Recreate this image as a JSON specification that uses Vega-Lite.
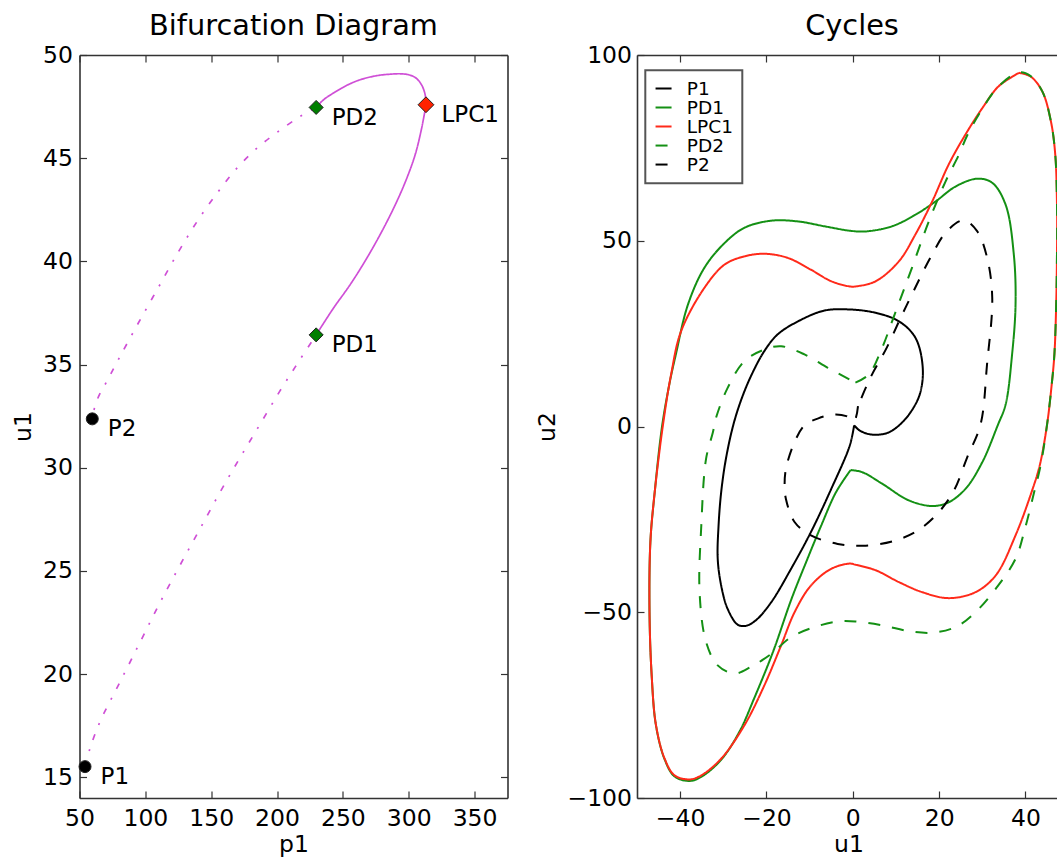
{
  "$schema": "https://vega.github.io/schema/vega-lite/v6.json",
  "background": "white",
  "padding": {"left": 11.5, "top": 12, "right": 0, "bottom": 3},
  "spacing": 26.5,
  "resolve": {
    "scale": {"strokeDash": "independent", "color": "independent", "shape": "independent", "fill": "independent", "size": "independent"},
    "legend": {"strokeDash": "independent", "color": "independent"}
  },
  "config": {
    "font": "DejaVu Sans",
    "view": {"stroke": null},
    "axis": {
      "grid": false,
      "labelFont": "DejaVu Sans", "labelFontSize": 23.5, "labelColor": "#000",
      "titleFont": "DejaVu Sans", "titleFontSize": 23.5, "titleFontWeight": "normal", "titleColor": "#000",
      "domainColor": "#333", "domainWidth": 1.6,
      "tickColor": "#333", "tickWidth": 1.2, "tickSize": -7,
      "labelFlush": false, "labelOverlap": false
    },
    "title": {"font": "DejaVu Sans", "fontSize": 28.8, "fontWeight": "normal", "color": "#000", "frame": "group"},
    "legend": {
      "labelFont": "DejaVu Sans", "labelFontSize": 18.5, "labelColor": "#000",
      "symbolType": "stroke", "symbolSize": 256, "symbolStrokeWidth": 2,
      "padding": 9, "rowPadding": 0, "labelOffset": 14,
      "strokeColor": "#555", "strokeWidth": 2, "fillColor": "white"
    }
  },
  "datasets": {
    "bif": [
      {"seg": "a", "ord": 0, "p1": 54.2, "u1": 15.52},
      {"seg": "a", "ord": 1, "p1": 58, "u1": 16.41},
      {"seg": "a", "ord": 2, "p1": 65.6, "u1": 17.7},
      {"seg": "a", "ord": 3, "p1": 81, "u1": 19.65},
      {"seg": "a", "ord": 4, "p1": 96, "u1": 21.55},
      {"seg": "a", "ord": 5, "p1": 111, "u1": 23.45},
      {"seg": "a", "ord": 6, "p1": 126.5, "u1": 25.3},
      {"seg": "a", "ord": 7, "p1": 142, "u1": 27.1},
      {"seg": "a", "ord": 8, "p1": 157, "u1": 28.85},
      {"seg": "a", "ord": 9, "p1": 172, "u1": 30.5},
      {"seg": "a", "ord": 10, "p1": 187, "u1": 32.1},
      {"seg": "a", "ord": 11, "p1": 202, "u1": 33.7},
      {"seg": "a", "ord": 12, "p1": 216, "u1": 35.1},
      {"seg": "a", "ord": 13, "p1": 229.7, "u1": 36.44},
      {"seg": "b", "ord": 14, "p1": 229.7, "u1": 36.44},
      {"seg": "b", "ord": 15, "p1": 242.9, "u1": 37.74},
      {"seg": "b", "ord": 16, "p1": 255.5, "u1": 38.87},
      {"seg": "b", "ord": 17, "p1": 268.2, "u1": 40.16},
      {"seg": "b", "ord": 18, "p1": 280.9, "u1": 41.61},
      {"seg": "b", "ord": 19, "p1": 291.0, "u1": 42.91},
      {"seg": "b", "ord": 20, "p1": 298.6, "u1": 44.04},
      {"seg": "b", "ord": 21, "p1": 304.9, "u1": 45.17},
      {"seg": "b", "ord": 22, "p1": 309.3, "u1": 46.3},
      {"seg": "b", "ord": 23, "p1": 311.8, "u1": 47.11},
      {"seg": "b", "ord": 24, "p1": 313.1, "u1": 47.59},
      {"seg": "b", "ord": 25, "p1": 312.9, "u1": 47.9},
      {"seg": "b", "ord": 26, "p1": 312.0, "u1": 48.2},
      {"seg": "b", "ord": 27, "p1": 310.2, "u1": 48.5},
      {"seg": "b", "ord": 28, "p1": 307.5, "u1": 48.76},
      {"seg": "b", "ord": 29, "p1": 304.2, "u1": 48.94},
      {"seg": "b", "ord": 30, "p1": 299.5, "u1": 49.05},
      {"seg": "b", "ord": 31, "p1": 293.5, "u1": 49.09},
      {"seg": "b", "ord": 32, "p1": 285.9, "u1": 49.07},
      {"seg": "b", "ord": 33, "p1": 275.8, "u1": 49.0},
      {"seg": "b", "ord": 34, "p1": 263.1, "u1": 48.8},
      {"seg": "b", "ord": 35, "p1": 253.0, "u1": 48.53},
      {"seg": "b", "ord": 36, "p1": 242.9, "u1": 48.16},
      {"seg": "b", "ord": 37, "p1": 235.5, "u1": 47.84},
      {"seg": "b", "ord": 38, "p1": 229.7, "u1": 47.46},
      {"seg": "c", "ord": 39, "p1": 229.7, "u1": 47.46},
      {"seg": "c", "ord": 40, "p1": 217, "u1": 47.0},
      {"seg": "c", "ord": 41, "p1": 200, "u1": 46.25},
      {"seg": "c", "ord": 42, "p1": 185, "u1": 45.5},
      {"seg": "c", "ord": 43, "p1": 170, "u1": 44.55},
      {"seg": "c", "ord": 44, "p1": 155, "u1": 43.35},
      {"seg": "c", "ord": 45, "p1": 140, "u1": 42.0},
      {"seg": "c", "ord": 46, "p1": 125, "u1": 40.45},
      {"seg": "c", "ord": 47, "p1": 110, "u1": 38.75},
      {"seg": "c", "ord": 48, "p1": 95, "u1": 37.05},
      {"seg": "c", "ord": 49, "p1": 80, "u1": 35.3},
      {"seg": "c", "ord": 50, "p1": 70, "u1": 34.1},
      {"seg": "c", "ord": 51, "p1": 65.6, "u1": 33.6},
      {"seg": "c", "ord": 52, "p1": 62, "u1": 33.05},
      {"seg": "c", "ord": 53, "p1": 59.7, "u1": 32.37}
    ],
    "pts": [
      {"name": "P1", "kind": "P", "p1": 54.2, "u1": 15.52},
      {"name": "P2", "kind": "P", "p1": 59.7, "u1": 32.37},
      {"name": "PD1", "kind": "PD", "p1": 229.7, "u1": 36.44},
      {"name": "PD2", "kind": "PD", "p1": 229.7, "u1": 47.46},
      {"name": "LPC1", "kind": "LPC", "p1": 313.1, "u1": 47.59}
    ],
    "cyc": [
      {"cycle": "P1", "ord": 0, "u1": 0.3, "u2": 0.3},
      {"cycle": "P1", "ord": 1, "u1": -0.7, "u2": -5.1},
      {"cycle": "P1", "ord": 2, "u1": -5.0, "u2": -16.8},
      {"cycle": "P1", "ord": 3, "u1": -9.7, "u2": -28.4},
      {"cycle": "P1", "ord": 4, "u1": -14.3, "u2": -38.3},
      {"cycle": "P1", "ord": 5, "u1": -18.9, "u2": -47.3},
      {"cycle": "P1", "ord": 6, "u1": -22.3, "u2": -52.0},
      {"cycle": "P1", "ord": 7, "u1": -24.6, "u2": -53.6},
      {"cycle": "P1", "ord": 8, "u1": -26.6, "u2": -53.4},
      {"cycle": "P1", "ord": 9, "u1": -29.0, "u2": -49.1},
      {"cycle": "P1", "ord": 10, "u1": -30.5, "u2": -42.8},
      {"cycle": "P1", "ord": 11, "u1": -31.3, "u2": -35.6},
      {"cycle": "P1", "ord": 12, "u1": -31.1, "u2": -26.6},
      {"cycle": "P1", "ord": 13, "u1": -30.5, "u2": -17.7},
      {"cycle": "P1", "ord": 14, "u1": -29.4, "u2": -8.7},
      {"cycle": "P1", "ord": 15, "u1": -27.6, "u2": 0.8},
      {"cycle": "P1", "ord": 16, "u1": -25.6, "u2": 8.0},
      {"cycle": "P1", "ord": 17, "u1": -23.3, "u2": 14.3},
      {"cycle": "P1", "ord": 18, "u1": -20.5, "u2": 20.3},
      {"cycle": "P1", "ord": 19, "u1": -17.4, "u2": 24.8},
      {"cycle": "P1", "ord": 20, "u1": -12.7, "u2": 28.3},
      {"cycle": "P1", "ord": 21, "u1": -6.6, "u2": 31.2},
      {"cycle": "P1", "ord": 22, "u1": -0.7, "u2": 31.5},
      {"cycle": "P1", "ord": 23, "u1": 5.3, "u2": 30.6},
      {"cycle": "P1", "ord": 24, "u1": 10.7, "u2": 28.3},
      {"cycle": "P1", "ord": 25, "u1": 14.5, "u2": 23.9},
      {"cycle": "P1", "ord": 26, "u1": 16.2, "u2": 15.8},
      {"cycle": "P1", "ord": 27, "u1": 15.5, "u2": 8.6},
      {"cycle": "P1", "ord": 28, "u1": 13.0, "u2": 3.2},
      {"cycle": "P1", "ord": 29, "u1": 10.7, "u2": 0.3},
      {"cycle": "P1", "ord": 30, "u1": 8.5, "u2": -1.5},
      {"cycle": "P1", "ord": 31, "u1": 6.0, "u2": -2.2},
      {"cycle": "P1", "ord": 32, "u1": 3.5, "u2": -2.0},
      {"cycle": "P1", "ord": 33, "u1": 1.5, "u2": -1.0},
      {"cycle": "P1", "ord": 34, "u1": 0.3, "u2": 0.3},
      {"cycle": "PD1", "ord": 0, "u1": -0.5, "u2": -11.7},
      {"cycle": "PD1", "ord": 1, "u1": -3.9, "u2": -17.7},
      {"cycle": "PD1", "ord": 2, "u1": -7.3, "u2": -26.6},
      {"cycle": "PD1", "ord": 3, "u1": -10.5, "u2": -35.6},
      {"cycle": "PD1", "ord": 4, "u1": -14.2, "u2": -46.4},
      {"cycle": "PD1", "ord": 5, "u1": -18.5, "u2": -60.7},
      {"cycle": "PD1", "ord": 6, "u1": -22.9, "u2": -73.3},
      {"cycle": "PD1", "ord": 7, "u1": -26.2, "u2": -82.0},
      {"cycle": "PD1", "ord": 8, "u1": -30.5, "u2": -89.7},
      {"cycle": "PD1", "ord": 9, "u1": -35.1, "u2": -94.3},
      {"cycle": "PD1", "ord": 10, "u1": -37.8, "u2": -95.4},
      {"cycle": "PD1", "ord": 11, "u1": -41.3, "u2": -94.2},
      {"cycle": "PD1", "ord": 12, "u1": -43.6, "u2": -89.6},
      {"cycle": "PD1", "ord": 13, "u1": -45.6, "u2": -80.5},
      {"cycle": "PD1", "ord": 14, "u1": -46.6, "u2": -67},
      {"cycle": "PD1", "ord": 15, "u1": -47.1, "u2": -50},
      {"cycle": "PD1", "ord": 16, "u1": -46.9, "u2": -31.1},
      {"cycle": "PD1", "ord": 17, "u1": -45.9, "u2": -17.7},
      {"cycle": "PD1", "ord": 18, "u1": -44.2, "u2": 0},
      {"cycle": "PD1", "ord": 19, "u1": -42.4, "u2": 12},
      {"cycle": "PD1", "ord": 20, "u1": -41.0, "u2": 19.4},
      {"cycle": "PD1", "ord": 21, "u1": -38.2, "u2": 32.8},
      {"cycle": "PD1", "ord": 22, "u1": -34.4, "u2": 42.7},
      {"cycle": "PD1", "ord": 23, "u1": -29.7, "u2": 49.4},
      {"cycle": "PD1", "ord": 24, "u1": -25.1, "u2": 53.5},
      {"cycle": "PD1", "ord": 25, "u1": -18.9, "u2": 55.4},
      {"cycle": "PD1", "ord": 26, "u1": -12.7, "u2": 55.2},
      {"cycle": "PD1", "ord": 27, "u1": -6.6, "u2": 53.9},
      {"cycle": "PD1", "ord": 28, "u1": -0.7, "u2": 52.7},
      {"cycle": "PD1", "ord": 29, "u1": 2.9, "u2": 52.5},
      {"cycle": "PD1", "ord": 30, "u1": 9.1, "u2": 53.9},
      {"cycle": "PD1", "ord": 31, "u1": 14.5, "u2": 57.0},
      {"cycle": "PD1", "ord": 32, "u1": 19.2, "u2": 60.6},
      {"cycle": "PD1", "ord": 33, "u1": 23.8, "u2": 64.6},
      {"cycle": "PD1", "ord": 34, "u1": 28.8, "u2": 66.7},
      {"cycle": "PD1", "ord": 35, "u1": 32.3, "u2": 65.6},
      {"cycle": "PD1", "ord": 36, "u1": 35.4, "u2": 59.7},
      {"cycle": "PD1", "ord": 37, "u1": 37.3, "u2": 46.3},
      {"cycle": "PD1", "ord": 38, "u1": 37.7, "u2": 32.8},
      {"cycle": "PD1", "ord": 39, "u1": 36.9, "u2": 19.4},
      {"cycle": "PD1", "ord": 40, "u1": 35.4, "u2": 5.9},
      {"cycle": "PD1", "ord": 41, "u1": 33.6, "u2": 0.4},
      {"cycle": "PD1", "ord": 42, "u1": 30.0, "u2": -9.6},
      {"cycle": "PD1", "ord": 43, "u1": 26.1, "u2": -16.8},
      {"cycle": "PD1", "ord": 44, "u1": 22.2, "u2": -20.4},
      {"cycle": "PD1", "ord": 45, "u1": 18.4, "u2": -21.4},
      {"cycle": "PD1", "ord": 46, "u1": 13.0, "u2": -19.9},
      {"cycle": "PD1", "ord": 47, "u1": 6.8, "u2": -15.4},
      {"cycle": "PD1", "ord": 48, "u1": 2.2, "u2": -12.3},
      {"cycle": "PD1", "ord": 49, "u1": -0.5, "u2": -11.7},
      {"cycle": "LPC1", "ord": 0, "u1": 38.5, "u2": 95.2},
      {"cycle": "LPC1", "ord": 1, "u1": 41.2, "u2": 94.2},
      {"cycle": "LPC1", "ord": 2, "u1": 43.9, "u2": 90.2},
      {"cycle": "LPC1", "ord": 3, "u1": 45.9, "u2": 82.1},
      {"cycle": "LPC1", "ord": 4, "u1": 46.9, "u2": 73.2},
      {"cycle": "LPC1", "ord": 5, "u1": 47.3, "u2": 60},
      {"cycle": "LPC1", "ord": 6, "u1": 47.3, "u2": 46.3},
      {"cycle": "LPC1", "ord": 7, "u1": 47.1, "u2": 32},
      {"cycle": "LPC1", "ord": 8, "u1": 46.7, "u2": 19.4},
      {"cycle": "LPC1", "ord": 9, "u1": 46.0, "u2": 10.4},
      {"cycle": "LPC1", "ord": 10, "u1": 45.0, "u2": 0.5},
      {"cycle": "LPC1", "ord": 11, "u1": 43.3, "u2": -10.5},
      {"cycle": "LPC1", "ord": 12, "u1": 41.4, "u2": -17.7},
      {"cycle": "LPC1", "ord": 13, "u1": 37.7, "u2": -29.3},
      {"cycle": "LPC1", "ord": 14, "u1": 33.1, "u2": -40.1},
      {"cycle": "LPC1", "ord": 15, "u1": 28.4, "u2": -44.6},
      {"cycle": "LPC1", "ord": 16, "u1": 22.2, "u2": -46.2},
      {"cycle": "LPC1", "ord": 17, "u1": 16.1, "u2": -44.6},
      {"cycle": "LPC1", "ord": 18, "u1": 10.7, "u2": -41.9},
      {"cycle": "LPC1", "ord": 19, "u1": 5.3, "u2": -38.7},
      {"cycle": "LPC1", "ord": 20, "u1": 0.6, "u2": -37.2},
      {"cycle": "LPC1", "ord": 21, "u1": -0.7, "u2": -36.9},
      {"cycle": "LPC1", "ord": 22, "u1": -5.0, "u2": -38.3},
      {"cycle": "LPC1", "ord": 23, "u1": -9.7, "u2": -42.8},
      {"cycle": "LPC1", "ord": 24, "u1": -13.5, "u2": -50.0},
      {"cycle": "LPC1", "ord": 25, "u1": -16.6, "u2": -58.9},
      {"cycle": "LPC1", "ord": 26, "u1": -20.5, "u2": -69.7},
      {"cycle": "LPC1", "ord": 27, "u1": -25.1, "u2": -80.4},
      {"cycle": "LPC1", "ord": 28, "u1": -30.5, "u2": -89.4},
      {"cycle": "LPC1", "ord": 29, "u1": -35.1, "u2": -93.9},
      {"cycle": "LPC1", "ord": 30, "u1": -37.8, "u2": -95.0},
      {"cycle": "LPC1", "ord": 31, "u1": -41.3, "u2": -93.9},
      {"cycle": "LPC1", "ord": 32, "u1": -43.6, "u2": -89.4},
      {"cycle": "LPC1", "ord": 33, "u1": -45.6, "u2": -80.4},
      {"cycle": "LPC1", "ord": 34, "u1": -46.6, "u2": -67},
      {"cycle": "LPC1", "ord": 35, "u1": -47.1, "u2": -50},
      {"cycle": "LPC1", "ord": 36, "u1": -46.9, "u2": -31.1},
      {"cycle": "LPC1", "ord": 37, "u1": -45.9, "u2": -17.7},
      {"cycle": "LPC1", "ord": 38, "u1": -44.0, "u2": 0.3},
      {"cycle": "LPC1", "ord": 39, "u1": -42.1, "u2": 14},
      {"cycle": "LPC1", "ord": 40, "u1": -39.8, "u2": 25.6},
      {"cycle": "LPC1", "ord": 41, "u1": -34.4, "u2": 37.3},
      {"cycle": "LPC1", "ord": 42, "u1": -29.7, "u2": 43.6},
      {"cycle": "LPC1", "ord": 43, "u1": -25.1, "u2": 45.8},
      {"cycle": "LPC1", "ord": 44, "u1": -20.5, "u2": 46.5},
      {"cycle": "LPC1", "ord": 45, "u1": -15.1, "u2": 45.4},
      {"cycle": "LPC1", "ord": 46, "u1": -9.7, "u2": 42.2},
      {"cycle": "LPC1", "ord": 47, "u1": -5.0, "u2": 39.1},
      {"cycle": "LPC1", "ord": 48, "u1": -0.7, "u2": 37.7},
      {"cycle": "LPC1", "ord": 49, "u1": 0.6, "u2": 37.7},
      {"cycle": "LPC1", "ord": 50, "u1": 5.3, "u2": 39.1},
      {"cycle": "LPC1", "ord": 51, "u1": 10.7, "u2": 44.5},
      {"cycle": "LPC1", "ord": 52, "u1": 14.5, "u2": 51.7},
      {"cycle": "LPC1", "ord": 53, "u1": 18.4, "u2": 60.6},
      {"cycle": "LPC1", "ord": 54, "u1": 22.2, "u2": 70.5},
      {"cycle": "LPC1", "ord": 55, "u1": 26.1, "u2": 78.6},
      {"cycle": "LPC1", "ord": 56, "u1": 30.0, "u2": 85.7},
      {"cycle": "LPC1", "ord": 57, "u1": 33.8, "u2": 91.6},
      {"cycle": "LPC1", "ord": 58, "u1": 38.5, "u2": 95.2},
      {"cycle": "PD2", "ord": 0, "u1": 0.6, "u2": 11.8},
      {"cycle": "PD2", "ord": 1, "u1": 3.7, "u2": 14.0},
      {"cycle": "PD2", "ord": 2, "u1": 6.8, "u2": 21.2},
      {"cycle": "PD2", "ord": 3, "u1": 9.1, "u2": 28.3},
      {"cycle": "PD2", "ord": 4, "u1": 11.4, "u2": 35.5},
      {"cycle": "PD2", "ord": 5, "u1": 13.7, "u2": 42.7},
      {"cycle": "PD2", "ord": 6, "u1": 17.6, "u2": 55.2},
      {"cycle": "PD2", "ord": 7, "u1": 21.5, "u2": 66.0},
      {"cycle": "PD2", "ord": 8, "u1": 24.6, "u2": 73.2},
      {"cycle": "PD2", "ord": 9, "u1": 26.6, "u2": 78.6},
      {"cycle": "PD2", "ord": 10, "u1": 30.1, "u2": 85.7},
      {"cycle": "PD2", "ord": 11, "u1": 33.8, "u2": 91.6},
      {"cycle": "PD2", "ord": 12, "u1": 38.5, "u2": 95.3},
      {"cycle": "PD2", "ord": 13, "u1": 41.2, "u2": 94.3},
      {"cycle": "PD2", "ord": 14, "u1": 43.9, "u2": 90.2},
      {"cycle": "PD2", "ord": 15, "u1": 45.9, "u2": 82.1},
      {"cycle": "PD2", "ord": 16, "u1": 46.9, "u2": 73.2},
      {"cycle": "PD2", "ord": 17, "u1": 47.3, "u2": 60},
      {"cycle": "PD2", "ord": 18, "u1": 47.3, "u2": 46.3},
      {"cycle": "PD2", "ord": 19, "u1": 47.1, "u2": 32},
      {"cycle": "PD2", "ord": 20, "u1": 46.7, "u2": 19.4},
      {"cycle": "PD2", "ord": 21, "u1": 46.0, "u2": 10.4},
      {"cycle": "PD2", "ord": 22, "u1": 45.0, "u2": 0.5},
      {"cycle": "PD2", "ord": 23, "u1": 43.5, "u2": -10.5},
      {"cycle": "PD2", "ord": 24, "u1": 42.0, "u2": -17.7},
      {"cycle": "PD2", "ord": 25, "u1": 40.0, "u2": -27},
      {"cycle": "PD2", "ord": 26, "u1": 37.7, "u2": -35.6},
      {"cycle": "PD2", "ord": 27, "u1": 33.1, "u2": -43.7},
      {"cycle": "PD2", "ord": 28, "u1": 28.4, "u2": -50.0},
      {"cycle": "PD2", "ord": 29, "u1": 23.8, "u2": -54.0},
      {"cycle": "PD2", "ord": 30, "u1": 18.4, "u2": -55.5},
      {"cycle": "PD2", "ord": 31, "u1": 13.0, "u2": -55.1},
      {"cycle": "PD2", "ord": 32, "u1": 6.8, "u2": -53.5},
      {"cycle": "PD2", "ord": 33, "u1": 0.6, "u2": -52.5},
      {"cycle": "PD2", "ord": 34, "u1": -3.5, "u2": -52.5},
      {"cycle": "PD2", "ord": 35, "u1": -8.9, "u2": -54.0},
      {"cycle": "PD2", "ord": 36, "u1": -14.3, "u2": -56.7},
      {"cycle": "PD2", "ord": 37, "u1": -18.9, "u2": -61.2},
      {"cycle": "PD2", "ord": 38, "u1": -23.6, "u2": -64.7},
      {"cycle": "PD2", "ord": 39, "u1": -27.4, "u2": -66.5},
      {"cycle": "PD2", "ord": 40, "u1": -31.3, "u2": -64.3},
      {"cycle": "PD2", "ord": 41, "u1": -34.0, "u2": -58.0},
      {"cycle": "PD2", "ord": 42, "u1": -35.5, "u2": -44.6},
      {"cycle": "PD2", "ord": 43, "u1": -35.1, "u2": -26.6},
      {"cycle": "PD2", "ord": 44, "u1": -34.0, "u2": -8.7},
      {"cycle": "PD2", "ord": 45, "u1": -32.4, "u2": -1.5},
      {"cycle": "PD2", "ord": 46, "u1": -31.7, "u2": 2.3},
      {"cycle": "PD2", "ord": 47, "u1": -29.0, "u2": 10.4},
      {"cycle": "PD2", "ord": 48, "u1": -25.1, "u2": 17.6},
      {"cycle": "PD2", "ord": 49, "u1": -20.5, "u2": 20.7},
      {"cycle": "PD2", "ord": 50, "u1": -16.6, "u2": 21.6},
      {"cycle": "PD2", "ord": 51, "u1": -11.2, "u2": 19.4},
      {"cycle": "PD2", "ord": 52, "u1": -5.8, "u2": 15.8},
      {"cycle": "PD2", "ord": 53, "u1": -0.7, "u2": 12.6},
      {"cycle": "PD2", "ord": 54, "u1": 0.6, "u2": 11.8},
      {"cycle": "P2", "ord": 0, "u1": 1.2, "u2": 5.5},
      {"cycle": "P2", "ord": 1, "u1": 0.3, "u2": 1.5},
      {"cycle": "P2", "ord": 2, "u1": -1.5, "u2": 2.8},
      {"cycle": "P2", "ord": 3, "u1": -4.5, "u2": 3.2},
      {"cycle": "P2", "ord": 4, "u1": -8.0, "u2": 2.2},
      {"cycle": "P2", "ord": 5, "u1": -11.2, "u2": 0.3},
      {"cycle": "P2", "ord": 6, "u1": -13.5, "u2": -4.2},
      {"cycle": "P2", "ord": 7, "u1": -15.5, "u2": -11.4},
      {"cycle": "P2", "ord": 8, "u1": -15.8, "u2": -16},
      {"cycle": "P2", "ord": 9, "u1": -15.5, "u2": -19.5},
      {"cycle": "P2", "ord": 10, "u1": -13.5, "u2": -25.7},
      {"cycle": "P2", "ord": 11, "u1": -9.7, "u2": -29.3},
      {"cycle": "P2", "ord": 12, "u1": -3.5, "u2": -31.6},
      {"cycle": "P2", "ord": 13, "u1": 2.5, "u2": -32.1},
      {"cycle": "P2", "ord": 14, "u1": 9.5, "u2": -30.8},
      {"cycle": "P2", "ord": 15, "u1": 14.9, "u2": -28.1},
      {"cycle": "P2", "ord": 16, "u1": 19.5, "u2": -23.6},
      {"cycle": "P2", "ord": 17, "u1": 23.4, "u2": -17.3},
      {"cycle": "P2", "ord": 18, "u1": 26.5, "u2": -8.3},
      {"cycle": "P2", "ord": 19, "u1": 29.6, "u2": 0.6},
      {"cycle": "P2", "ord": 20, "u1": 31.1, "u2": 16.8},
      {"cycle": "P2", "ord": 21, "u1": 32.3, "u2": 34.7},
      {"cycle": "P2", "ord": 22, "u1": 31.1, "u2": 45.5},
      {"cycle": "P2", "ord": 23, "u1": 28.8, "u2": 52.6},
      {"cycle": "P2", "ord": 24, "u1": 25.7, "u2": 55.5},
      {"cycle": "P2", "ord": 25, "u1": 21.8, "u2": 52.6},
      {"cycle": "P2", "ord": 26, "u1": 18.0, "u2": 45.5},
      {"cycle": "P2", "ord": 27, "u1": 14.1, "u2": 36.5},
      {"cycle": "P2", "ord": 28, "u1": 11.1, "u2": 29.3},
      {"cycle": "P2", "ord": 29, "u1": 7.9, "u2": 21.3},
      {"cycle": "P2", "ord": 30, "u1": 4.1, "u2": 13.2},
      {"cycle": "P2", "ord": 31, "u1": 1.2, "u2": 5.5}
    ]
  },
  "hconcat": [
    {
      "width": 428,
      "height": 743,
      "title": {"text": "Bifurcation Diagram", "offset": 2},
      "layer": [
        {
          "data": {"name": "bif"},
          "mark": {"type": "line", "strokeWidth": 1.7, "color": "#cf4fd6", "interpolate": "catmull-rom"},
          "encoding": {
            "x": {"field": "p1", "type": "quantitative", "scale": {"domain": [50, 375], "nice": false, "zero": false},
                  "axis": {"orient": "bottom", "values": [50, 100, 150, 200, 250, 300, 350], "title": "p1", "labelPadding": 15.6, "titlePadding": 2}},
            "y": {"field": "u1", "type": "quantitative", "scale": {"domain": [14, 50], "nice": false, "zero": false},
                  "axis": {"orient": "left", "values": [15, 20, 25, 30, 35, 40, 45, 50], "title": "u1", "labelPadding": 14, "titlePadding": 7}},
            "strokeDash": {"field": "seg", "type": "nominal", "scale": {"domain": ["a", "b", "c"], "range": [[6, 10, 2, 10], [1, 0], [6, 10, 2, 10]]}, "legend": null},
            "order": {"field": "ord", "type": "quantitative"}
          }
        },
        {
          "data": {"name": "pts"},
          "mark": {"type": "point", "filled": true, "stroke": "#222", "strokeWidth": 1, "opacity": 1},
          "encoding": {
            "x": {"field": "p1", "type": "quantitative", "axis": {"orient": "top", "values": [50, 100, 150, 200, 250, 300, 350], "labels": false, "title": null}},
            "y": {"field": "u1", "type": "quantitative", "axis": {"orient": "right", "values": [15, 20, 25, 30, 35, 40, 45, 50], "labels": false, "title": null}},
            "shape": {"field": "kind", "type": "nominal", "scale": {"domain": ["P", "PD", "LPC"], "range": ["circle", "diamond", "diamond"]}, "legend": null},
            "fill": {"field": "kind", "type": "nominal", "scale": {"domain": ["P", "PD", "LPC"], "range": ["#000000", "#007f00", "#ff2200"]}, "legend": null},
            "size": {"field": "kind", "type": "nominal", "scale": {"domain": ["P", "PD", "LPC"], "range": [144, 250, 250]}, "legend": null}
          }
        },
        {
          "data": {"name": "pts"},
          "mark": {"type": "text", "align": "left", "baseline": "alphabetic", "dx": 15.5, "dy": 17.5, "fontSize": 23, "font": "DejaVu Sans", "color": "#000"},
          "encoding": {
            "x": {"field": "p1", "type": "quantitative", "axis": null},
            "y": {"field": "u1", "type": "quantitative", "axis": null},
            "text": {"field": "name"}
          }
        }
      ],
      "resolve": {"axis": {"x": "independent", "y": "independent"}}
    },
    {
      "width": 423,
      "height": 743,
      "title": {"text": "Cycles", "offset": 2, "dx": 3.5},
      "layer": [
        {
          "data": {"name": "cyc"},
          "mark": {"type": "line", "strokeWidth": 2, "clip": true, "interpolate": "catmull-rom"},
          "encoding": {
            "x": {"field": "u1", "type": "quantitative", "scale": {"domain": [-50, 48], "nice": false, "zero": false},
                  "axis": {"orient": "bottom", "values": [-40, -20, 0, 20, 40], "title": "u1", "labelPadding": 15.6, "titlePadding": 2}},
            "y": {"field": "u2", "type": "quantitative", "scale": {"domain": [-100, 100], "nice": false, "zero": false},
                  "axis": {"orient": "left", "values": [-100, -50, 0, 50, 100], "title": "u2", "labelPadding": 12.5, "titlePadding": 7}},
            "color": {"field": "cycle", "type": "nominal",
                      "scale": {"domain": ["P1", "PD1", "LPC1", "PD2", "P2"], "range": ["#000000", "#149014", "#ff2a1a", "#149014", "#000000"]},
                      "legend": {"orient": "none", "legendX": 8.3, "legendY": 15.3, "title": null}},
            "strokeDash": {"field": "cycle", "type": "nominal",
                      "scale": {"domain": ["P1", "PD1", "LPC1", "PD2", "P2"], "range": [[1, 0], [1, 0], [1, 0], [12, 12], [12, 12]]},
                      "legend": {"orient": "none", "legendX": 8.3, "legendY": 15.3, "title": null}},
            "order": {"field": "ord", "type": "quantitative"}
          }
        },
        {
          "data": {"name": "cyc"},
          "mark": {"type": "point", "opacity": 0},
          "encoding": {
            "x": {"field": "u1", "type": "quantitative", "axis": {"orient": "top", "values": [-40, -20, 0, 20, 40], "labels": false, "title": null}},
            "y": {"field": "u2", "type": "quantitative", "axis": null}
          }
        }
      ],
      "resolve": {"axis": {"x": "independent", "y": "independent"}}
    }
  ]
}
